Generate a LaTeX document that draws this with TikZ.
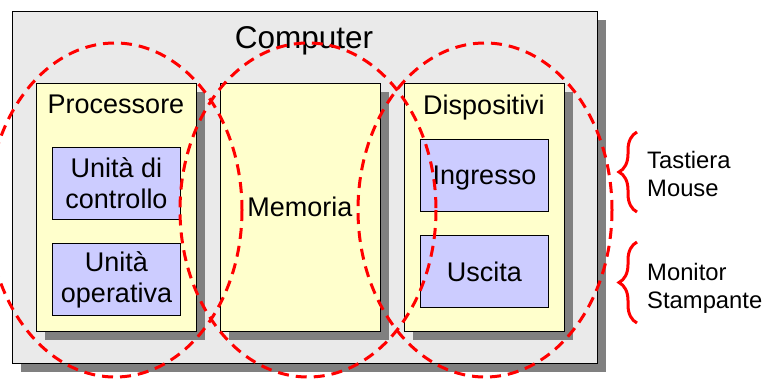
\documentclass[tikz,border=0pt]{standalone}
\usepackage{fontspec}
\setmainfont{Liberation Sans}
\usetikzlibrary{shadows,decorations.pathreplacing}

\definecolor{panelgray}{HTML}{EAEAEA}
\definecolor{shadowgray}{HTML}{808080}
\definecolor{unitcream}{HTML}{FFFFCC}
\definecolor{partblue}{HTML}{CCCCFF}
\definecolor{markred}{HTML}{FF0000}

\begin{document}
\begin{tikzpicture}[x=1pt,y=-1pt,
  boxbase/.style={draw=black, line width=1pt, inner sep=0pt, anchor=north west},
  dropped/.style={general shadow={fill=shadowgray, shadow xshift=8pt, shadow yshift=-8pt}},
  panel/.style={boxbase, dropped, fill=panelgray, minimum width=585pt, minimum height=352pt},
  unitbox/.style={boxbase, dropped, fill=unitcream, minimum width=160pt, minimum height=248pt,
    font=\fontsize{27}{31}\selectfont},
  partbox/.style={boxbase, fill=partblue, minimum width=128pt, minimum height=72pt,
    align=center, font=\fontsize{27}{31}\selectfont},
  unitlabel/.style={anchor=base, inner sep=0pt, font=\fontsize{27}{31}\selectfont},
  sidelabel/.style={anchor=west, align=left, inner sep=0pt, font=\fontsize{23.8}{28}\selectfont},
  ring/.style={draw=markred, line width=3pt, dash pattern=on 11pt off 7pt},
  bracket/.style={draw=markred, line width=3pt, decorate, decoration={brace, amplitude=18pt}}]

\useasboundingbox (0,0) rectangle (766,378);

% outer computer panel
\node[panel] (computer) at (12,11) {};
\node[anchor=base, inner sep=0pt, font=\fontsize{31.5}{36}\selectfont] (computertitle) at (304,48) {Computer};

% the three main units
\node[unitbox] (cpu) at (36,83) {};
\node[unitlabel] (cputitle) at (116,113) {Processore};

\node[unitbox] (mem) at (220,83) {};
\node[unitlabel] (memtitle) at (300,216) {Memoria};

\node[unitbox] (dev) at (404,83) {};
\node[unitlabel] (devtitle) at (484,114) {Dispositivi};

% sub-units
\node[partbox] (cu) at (52,147) {Unità di\\controllo};
\node[partbox] (alu) at (52,243) {Unità\\operativa};
\node[partbox, text depth=0pt] (inp) at (420,139) {Ingresso};
\node[partbox, text depth=0pt] (outp) at (420,235) {Uscita};

% dashed groupings
\coordinate (cpuring) at (115,210);
\coordinate (memring) at (308,210);
\coordinate (devring) at (485,210);
\draw[ring] (cpuring) ellipse [x radius=127, y radius=167];
\draw[ring] (memring) ellipse [x radius=128, y radius=167];
\draw[ring] (devring) ellipse [x radius=127, y radius=167];

% peripheral examples
\coordinate (inlow) at (637,212);
\coordinate (inhigh) at (637,132);
\coordinate (outlow) at (637,323);
\coordinate (outhigh) at (637,242);
\draw[bracket] (inlow) -- (inhigh);
\draw[bracket] (outlow) -- (outhigh);
\node[sidelabel] (inexamples) at (647,174) {Tastiera\\Mouse};
\node[sidelabel] (outexamples) at (647,288) {Monitor\\Stampante};

\end{tikzpicture}
\end{document}
